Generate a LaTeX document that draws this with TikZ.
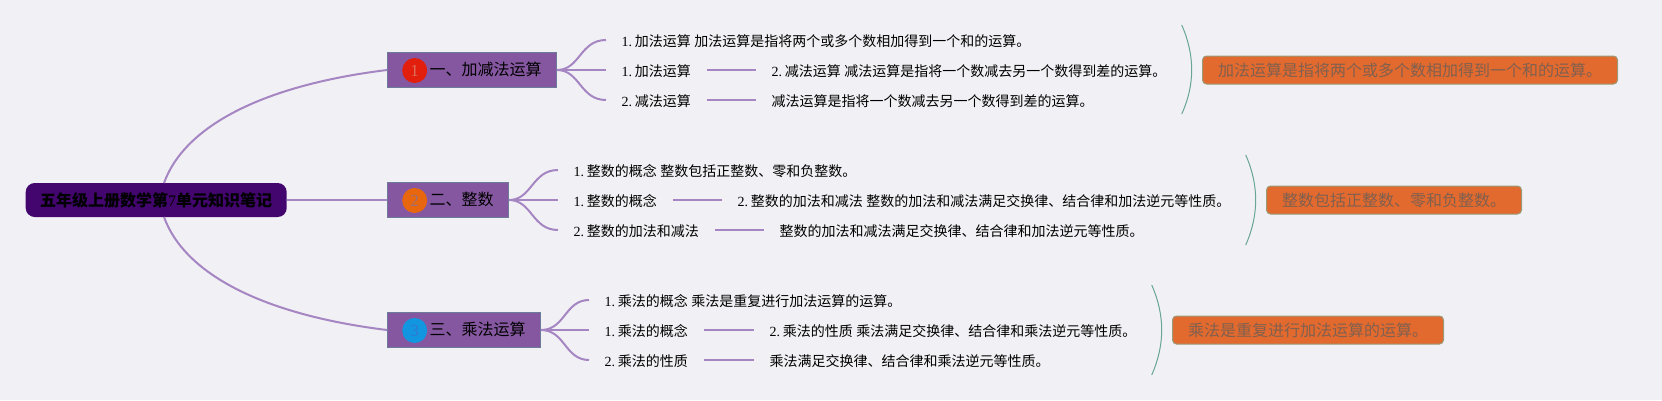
\documentclass[tikz,border=0pt]{standalone}
\usepackage{fontspec}
\setmainfont{Noto Sans CJK SC}
\newfontfamily\lat{Liberation Serif}
\newcommand{\num}[1]{{\lat #1}\hspace{2.6pt}}
\definecolor{bgc}{HTML}{F1F1F5}
\definecolor{linkc}{HTML}{A585C2}
\definecolor{boxc}{HTML}{8557A0}
\definecolor{boxb}{HTML}{6C7C98}
\definecolor{rootc}{HTML}{42066E}
\definecolor{sumc}{HTML}{E36A2E}
\definecolor{sumb}{HTML}{9A9A78}
\definecolor{sumt}{HTML}{80604F}
\definecolor{arcc}{HTML}{68A594}
\tikzset{
  x=1pt,y=-1pt,
  link/.style={draw=linkc,line width=2pt},
  arcline/.style={draw=arcc,line width=1pt},
  rootbox/.style={fill=rootc,rounded corners=9pt,minimum width=261pt,minimum height=34pt,inner sep=0pt,font=\fontsize{16}{16}\selectfont\bfseries,text=black,anchor=west},
  topic/.style={fill=boxc,draw=boxb,line width=1pt,minimum height=35pt,inner sep=0pt,font=\fontsize{16}{16}\selectfont,text=black,anchor=west,text height=13pt,text depth=2.5pt},
  badge/.style={circle,minimum size=25pt,inner sep=0pt,font=\lat\fontsize{17}{17}\selectfont},
  leaf/.style={anchor=west,inner xsep=15.5pt,inner ysep=0pt,font=\fontsize{14}{14}\selectfont,text=black,text height=14pt,text depth=0.5pt},
  summary/.style={fill=sumc,draw=sumb,line width=1pt,rounded corners=4pt,inner xsep=15.5pt,inner ysep=0pt,minimum height=28pt,anchor=west,font=\fontsize{16}{16}\selectfont,text=sumt,text height=14pt,text depth=0.5pt}
}
\begin{document}
\begin{tikzpicture}
\useasboundingbox (0,0) rectangle (1662,400);
\fill[bgc] (0,0) rectangle (1662,400);
% root and topics
\node[rootbox] (root) at (25.5,200) {五年级上册数学第{\mdseries\lat 7}单元知识笔记};
\node[topic] (t1) at (387,70) {\hspace*{42pt}一、加减法运算\hspace*{15pt}};
\node[topic] (t2) at (387,200) {\hspace*{42pt}二、整数\hspace*{15pt}};
\node[topic] (t3) at (387,330) {\hspace*{42pt}三、乘法运算\hspace*{15pt}};
\node[badge,fill={rgb,255:red,226;green,30;blue,12},text={rgb,255:red,222;green,110;blue,90}] (b1) at (414.7,70.5) {1};
\node[badge,fill={rgb,255:red,232;green,102;blue,14},text={rgb,255:red,160;green,110;blue,110}] (b2) at (414.7,200.5) {2};
\node[badge,fill={rgb,255:red,18;green,150;blue,224},text={rgb,255:red,50;green,120;blue,210}] (b3) at (414.7,330.5) {3};
\coordinate (rt) at (164,183);
\coordinate (rb) at (164,217);
\draw[link] (rt) .. controls (185,125) and (265,85) .. (t1.west);
\draw[link] (root.east) -- (t2.west);
\draw[link] (rb) .. controls (185,275) and (265,315) .. (t3.west);
% section 1
\node[leaf] (a1) at (606,40) {\num{1.}加法运算{\lat\ }加法运算是指将两个或多个数相加得到一个和的运算。};
\node[leaf] (a2) at (606,70) {\num{1.}加法运算};
\node[leaf] (a3) at (756,70) {\num{2.}减法运算{\lat\ }减法运算是指将一个数减去另一个数得到差的运算。};
\node[leaf] (a4) at (606,100) {\num{2.}减法运算};
\node[leaf] (a5) at (756,100) {减法运算是指将一个数减去另一个数得到差的运算。};
\draw[link] (t1.east) .. controls (580,70) and (580,40) .. (a1.west);
\draw[link] (t1.east) -- (a2.west);
\draw[link] (t1.east) .. controls (580,70) and (580,100) .. (a4.west);
\draw[link] (a2.east) -- (a3.west);
\draw[link] (a4.east) -- (a5.west);
% section 2
\node[leaf] (c1) at (558,170) {\num{1.}整数的概念{\lat\ }整数包括正整数、零和负整数。};
\node[leaf] (c2) at (558,200) {\num{1.}整数的概念};
\node[leaf] (c3) at (722,200) {\num{2.}整数的加法和减法{\lat\ }整数的加法和减法满足交换律、结合律和加法逆元等性质。};
\node[leaf] (c4) at (558,230) {\num{2.}整数的加法和减法};
\node[leaf] (c5) at (764,230) {整数的加法和减法满足交换律、结合律和加法逆元等性质。};
\draw[link] (t2.east) .. controls (532,200) and (532,170) .. (c1.west);
\draw[link] (t2.east) -- (c2.west);
\draw[link] (t2.east) .. controls (532,200) and (532,230) .. (c4.west);
\draw[link] (c2.east) -- (c3.west);
\draw[link] (c4.east) -- (c5.west);
% section 3
\node[leaf] (d1) at (589,300) {\num{1.}乘法的概念{\lat\ }乘法是重复进行加法运算的运算。};
\node[leaf] (d2) at (589,330) {\num{1.}乘法的概念};
\node[leaf] (d3) at (754,330) {\num{2.}乘法的性质{\lat\ }乘法满足交换律、结合律和乘法逆元等性质。};
\node[leaf] (d4) at (589,360) {\num{2.}乘法的性质};
\node[leaf] (d5) at (754,360) {乘法满足交换律、结合律和乘法逆元等性质。};
\draw[link] (t3.east) .. controls (565,330) and (565,300) .. (d1.west);
\draw[link] (t3.east) -- (d2.west);
\draw[link] (t3.east) .. controls (565,330) and (565,360) .. (d4.west);
\draw[link] (d2.east) -- (d3.west);
\draw[link] (d4.east) -- (d5.west);
% summaries
\node[summary] (s1) at (1202,70) {加法运算是指将两个或多个数相加得到一个和的运算。};
\node[summary] (s2) at (1266,200) {整数包括正整数、零和负整数。};
\node[summary] (s3) at (1172,330) {乘法是重复进行加法运算的运算。};
\coordinate (p1a) at (1181.7,25); \coordinate (p1b) at (1181.7,114);
\coordinate (p2a) at (1245.7,155); \coordinate (p2b) at (1245.7,245);
\coordinate (p3a) at (1151.7,285); \coordinate (p3b) at (1151.7,375);
\draw[arcline] (p1a) .. controls (1195,55) and (1195,85) .. (p1b);
\draw[arcline] (p2a) .. controls (1259,185) and (1259,215) .. (p2b);
\draw[arcline] (p3a) .. controls (1165,315) and (1165,345) .. (p3b);
\end{tikzpicture}
\end{document}
